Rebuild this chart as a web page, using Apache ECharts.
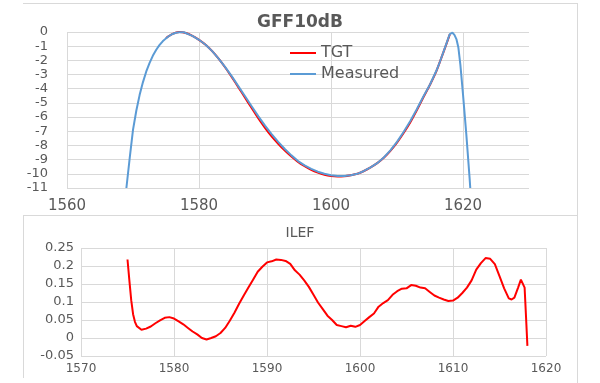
<!DOCTYPE html>
<html>
<head>
<meta charset="utf-8">
<script src="https://cdn.jsdelivr.net/npm/echarts@6/dist/echarts.min.js"></script>
<style>
html,body{margin:0;padding:0;background:#fff;}
#chart{width:600px;height:383px;}
</style>
</head>
<body>
<div id="chart"></div>
<script>
// Top chart: GFF10dB
const measuredWl = [1569, 1569.5, 1570, 1570.5, 1571, 1571.5, 1572, 1572.5, 1573, 1573.5, 1574, 1574.5, 1575, 1575.5, 1576, 1576.5, 1577, 1577.3, 1577.7, 1578, 1579, 1580, 1581, 1582, 1583, 1584, 1585, 1586, 1587, 1588, 1589, 1590, 1591, 1592, 1593, 1594, 1595, 1596, 1597, 1598, 1599, 1600, 1601, 1602, 1603, 1604, 1605, 1606, 1607, 1608, 1609, 1610, 1611, 1612, 1613, 1614, 1615, 1616, 1616.5, 1617, 1617.5, 1617.8, 1618, 1618.2, 1618.4, 1618.7, 1619, 1619.3, 1619.6, 1620, 1620.5, 1621, 1621.1];
const measuredVal = [-11, -8.9, -6.9, -5.55, -4.45, -3.55, -2.8, -2.2, -1.68, -1.27, -0.93, -0.66, -0.45, -0.27, -0.14, -0.05, -0.01, 0, -0.02, -0.06, -0.27, -0.55, -0.9, -1.35, -1.9, -2.5, -3.15, -3.85, -4.55, -5.25, -5.95, -6.6, -7.2, -7.75, -8.25, -8.7, -9.1, -9.4, -9.65, -9.85, -10.0, -10.1, -10.15, -10.15, -10.1, -10.0, -9.8, -9.55, -9.25, -8.85, -8.35, -7.75, -7.05, -6.3, -5.45, -4.55, -3.7, -2.7, -2.1, -1.45, -0.8, -0.4, -0.15, -0.02, -0.05, -0.2, -0.5, -1.1, -2.3, -4.4, -7.2, -10.3, -11];
const tgtWl = [1575, 1576, 1577, 1578, 1579, 1580, 1581, 1582, 1583, 1584, 1585, 1586, 1587, 1588, 1589, 1590, 1591, 1592, 1593, 1594, 1595, 1596, 1597, 1598, 1599, 1600, 1601, 1602, 1603, 1604, 1605, 1606, 1607, 1608, 1609, 1610, 1611, 1612, 1613, 1614, 1615, 1616, 1617, 1618];
const tgtVal = [-0.42, -0.13, 0, -0.07, -0.27, -0.55, -0.9, -1.35, -1.9, -2.52, -3.2, -3.92, -4.65, -5.38, -6.1, -6.76, -7.36, -7.88, -8.36, -8.78, -9.16, -9.46, -9.72, -9.92, -10.07, -10.16, -10.19, -10.17, -10.1, -10.0, -9.8, -9.55, -9.25, -8.87, -8.38, -7.8, -7.12, -6.38, -5.52, -4.6, -3.72, -2.72, -1.47, -0.17];

// Bottom chart: ILEF
const ilefWl = [1575.0, 1575.2, 1575.4, 1575.6, 1575.8, 1576.0, 1576.5, 1577.0, 1577.5, 1578.0, 1578.5, 1579.0, 1579.5, 1580.0, 1580.5, 1581.0, 1581.5, 1582.0, 1582.5, 1583.0, 1583.5, 1584.0, 1584.5, 1585.0, 1585.5, 1586.0, 1586.5, 1587.0, 1587.5, 1588.0, 1588.5, 1589.0, 1589.5, 1590.0, 1590.5, 1591.0, 1591.5, 1592.0, 1592.5, 1593.0, 1593.5, 1594.0, 1594.5, 1595.0, 1595.5, 1596.0, 1596.5, 1597.0, 1597.5, 1598.0, 1598.5, 1599.0, 1599.5, 1600.0, 1600.5, 1601.0, 1601.5, 1602.0, 1602.5, 1603.0, 1603.5, 1604.0, 1604.5, 1605.0, 1605.5, 1606.0, 1606.5, 1607.0, 1607.5, 1608.0, 1608.5, 1609.0, 1609.5, 1610.0, 1610.5, 1611.0, 1611.5, 1612.0, 1612.5, 1613.0, 1613.5, 1614.0, 1614.5, 1615.0, 1615.5, 1616.0, 1616.3, 1616.6, 1617.0, 1617.3, 1617.5, 1617.7, 1617.85, 1618.0];
const ilefVal = [0.218, 0.16, 0.105, 0.066, 0.045, 0.033, 0.023, 0.026, 0.032, 0.041, 0.049, 0.056, 0.058, 0.054, 0.046, 0.038, 0.028, 0.018, 0.01, 0.0, -0.004, 0.0, 0.005, 0.014, 0.028, 0.048, 0.07, 0.095, 0.118, 0.14, 0.162, 0.184, 0.198, 0.21, 0.213, 0.218, 0.217, 0.214, 0.206, 0.188, 0.176, 0.16, 0.142, 0.12, 0.098, 0.08, 0.062, 0.05, 0.036, 0.033, 0.03, 0.034, 0.031, 0.036, 0.047, 0.058, 0.068, 0.087, 0.097, 0.105, 0.12, 0.13, 0.137, 0.138, 0.147, 0.145, 0.14, 0.138, 0.128, 0.118, 0.112, 0.107, 0.103, 0.104, 0.112, 0.125, 0.14, 0.16, 0.19, 0.208, 0.222, 0.22, 0.205, 0.172, 0.138, 0.11, 0.107, 0.112, 0.14, 0.162, 0.163, 0.14, 0.06, -0.022];

const topTitle = 'GFF10dB';
const bottomTitle = 'ILEF';
const legendNames = ['TGT', 'Measured'];

function pairs(xs, ys) { return xs.map((x, i) => [x, ys[i]]); }

const gridColor = '#D9D9D9';
const textColor = '#595959';
const font = '"DejaVu Sans", "Liberation Sans", sans-serif';
const plain = v => String(parseFloat(Number(v).toFixed(2)));

const chart = echarts.init(document.getElementById('chart'), null, {renderer: 'canvas'});
chart.setOption({
  animation: false,
  backgroundColor: '#fff',
  title: [
    {text: topTitle, left: 'center', top: 9, textStyle: {fontFamily: font, fontSize: 17, fontWeight: 'bold', color: textColor}},
    {text: bottomTitle, left: 'center', top: 221, textStyle: {fontFamily: font, fontSize: 14, fontWeight: 'normal', color: textColor}}
  ],
  legend: {
    data: legendNames, orient: 'vertical', left: 285, top: 40,
    icon: 'rect', itemWidth: 26, itemHeight: 2, itemGap: 5,
    textStyle: {fontFamily: font, fontSize: 16, color: textColor, lineHeight: 16}
  },
  grid: [
    {left: 67, right: 71, top: 32, height: 156},
    {left: 81, right: 54, top: 248, height: 108}
  ],
  xAxis: [
    {type: 'value', gridIndex: 0, min: 1560, max: 1630, interval: 20,
     axisLine: {show: false}, axisTick: {show: false},
     axisLabel: {showMaxLabel: false, margin: 11, fontFamily: font, fontSize: 15, color: textColor, formatter: plain},
     splitLine: {show: true, showMaxLine: false, lineStyle: {color: gridColor, width: 1}}},
    {type: 'value', gridIndex: 1, min: 1570, max: 1620, interval: 10,
     axisLine: {show: false}, axisTick: {show: false},
     axisLabel: {margin: 7, fontFamily: font, fontSize: 12, color: textColor, formatter: plain},
     splitLine: {show: true, lineStyle: {color: gridColor, width: 1}}}
  ],
  yAxis: [
    {type: 'value', gridIndex: 0, min: -11, max: 0, interval: 1,
     axisLine: {show: false}, axisTick: {show: false},
     axisLabel: {margin: 19, fontFamily: font, fontSize: 13, color: textColor, formatter: plain},
     splitLine: {show: true, lineStyle: {color: gridColor, width: 1}}},
    {type: 'value', gridIndex: 1, min: -0.05, max: 0.25, interval: 0.05,
     axisLine: {show: false}, axisTick: {show: false},
     axisLabel: {margin: 7, fontFamily: font, fontSize: 13, color: textColor, formatter: plain},
     splitLine: {show: true, lineStyle: {color: gridColor, width: 1}}}
  ],
  series: [
    {name: 'TGT', type: 'line', xAxisIndex: 0, yAxisIndex: 0, data: pairs(tgtWl, tgtVal),
     showSymbol: false, smooth: 0.2, lineStyle: {color: '#FF0000', width: 2}, itemStyle: {color: '#FF0000'}, z: 2},
    {name: 'Measured', type: 'line', xAxisIndex: 0, yAxisIndex: 0, data: pairs(measuredWl, measuredVal),
     showSymbol: false, smooth: false, lineStyle: {color: '#5B9BD5', width: 2}, itemStyle: {color: '#5B9BD5'}, z: 3},
    {name: 'ILEF', type: 'line', xAxisIndex: 1, yAxisIndex: 1, data: pairs(ilefWl, ilefVal),
     showSymbol: false, smooth: false, lineStyle: {color: '#FF0000', width: 2}, itemStyle: {color: '#FF0000'}}
  ],
  graphic: [
    {type: 'line', shape: {x1: 23, y1: 3.5, x2: 577, y2: 3.5}, style: {stroke: gridColor, lineWidth: 1}, silent: true},
    {type: 'line', shape: {x1: 577.5, y1: 3, x2: 577.5, y2: 383}, style: {stroke: gridColor, lineWidth: 1}, silent: true},
    {type: 'line', shape: {x1: 23, y1: 215.5, x2: 577, y2: 215.5}, style: {stroke: gridColor, lineWidth: 1}, silent: true},
    {type: 'line', shape: {x1: 23.5, y1: 215, x2: 23.5, y2: 378}, style: {stroke: gridColor, lineWidth: 1}, silent: true}
  ]
});
</script>
</body>
</html>
